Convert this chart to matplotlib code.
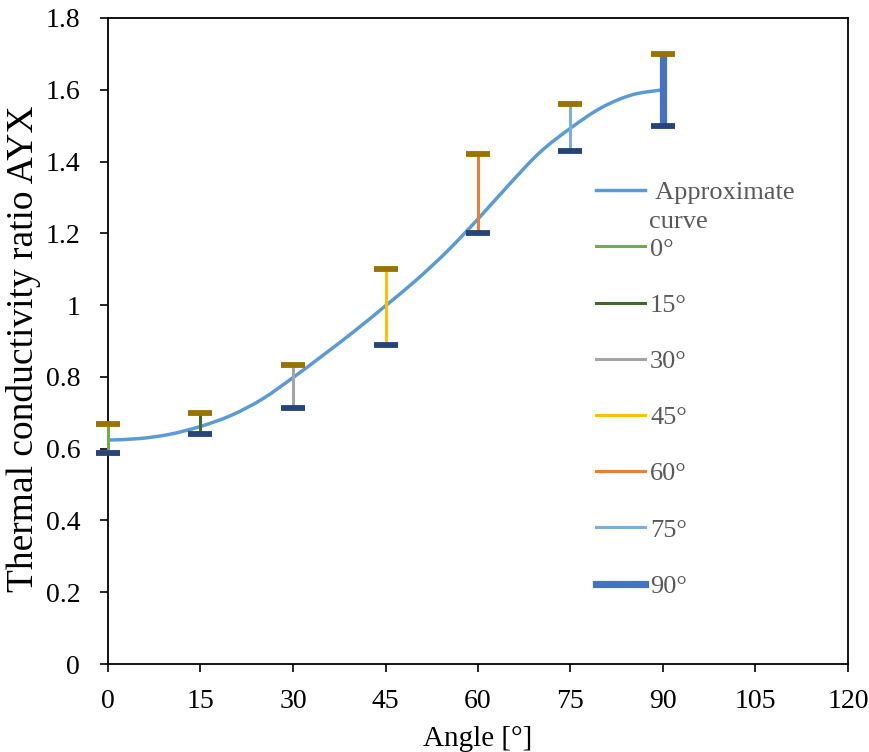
import numpy as np
import matplotlib
matplotlib.use("Agg")
import matplotlib.pyplot as plt
from matplotlib.lines import Line2D
from matplotlib.path import Path
from matplotlib.patches import PathPatch

# ---- data ----
angles = [0, 15, 30, 45, 60, 75, 90]
upper = [0.668, 0.699, 0.833, 1.100, 1.420, 1.560, 1.700]
lower = [0.589, 0.641, 0.713, 0.889, 1.200, 1.430, 1.500]
series_labels = ["0°", "15°", "30°", "45°", "60°", "75°", "90°"]
series_colors = ["#70AD47", "#43682B", "#A5A5A5", "#FFC000", "#ED7D31", "#7CAFDD", "#4472C4"]
series_widths = [2.2, 2.2, 2.2, 2.2, 2.2, 2.2, 5.2]

curve_x = [0, 5, 10, 15, 20, 25, 30, 35, 40, 45, 50, 55, 60, 65, 70, 75, 80, 85, 90]
curve_y = [0.624, 0.628, 0.640, 0.662, 0.693, 0.738, 0.798, 0.862, 0.928, 0.998,
           1.070, 1.150, 1.240, 1.335, 1.425, 1.493, 1.550, 1.586, 1.600]

xticks = [0, 15, 30, 45, 60, 75, 90, 105, 120]
yticks = [0, 0.2, 0.4, 0.6, 0.8, 1.0, 1.2, 1.4, 1.6, 1.8]
ytick_labels = ["0", "0.2", "0.4", "0.6", "0.8", "1", "1.2", "1.4", "1.6", "1.8"]

curve_color = "#5B9BD5"
cap_top_color = "#997300"
cap_bot_color = "#264478"

plt.rcParams['font.family'] = ['Liberation Serif', 'DejaVu Serif']

fig = plt.figure(figsize=(8.7, 7.52), dpi=100)
ax = fig.add_axes([108/870, 1-664/752, 740/870, 646/752])


def smooth_path(xs, ys, tension=1/6):
    """Catmull-Rom style Bezier path through the data points (like a smoothed line)."""
    pts = np.column_stack([xs, ys]).astype(float)
    n = len(pts)
    verts = [tuple(pts[0])]
    codes = [Path.MOVETO]
    for i in range(n - 1):
        p0 = pts[i - 1] if i > 0 else pts[i]
        p1 = pts[i]
        p2 = pts[i + 1]
        p3 = pts[i + 2] if i + 2 < n else pts[i + 1]
        c1 = p1 + (p2 - p0) * tension
        c2 = p2 - (p3 - p1) * tension
        verts += [tuple(c1), tuple(c2), tuple(p2)]
        codes += [Path.CURVE4] * 3
    return Path(verts, codes)


ax.add_patch(PathPatch(smooth_path(curve_x, curve_y), facecolor='none',
                       edgecolor=curve_color, lw=2.5, zorder=3, capstyle='round'))

for a, lo, hi, c, w in zip(angles, lower, upper, series_colors, series_widths):
    ax.plot([a, a], [lo, hi], color=c, lw=w, zorder=4, solid_capstyle='butt', clip_on=False)
    ax.plot([a], [hi], marker='_', markersize=17, mew=4.2, color=cap_top_color,
            zorder=5, clip_on=False)
    ax.plot([a], [lo], marker='_', markersize=17, mew=4.2, color=cap_bot_color,
            zorder=5, clip_on=False)

ax.set_xlim(0, 120)
ax.set_ylim(0, 1.8)
ax.set_xticks(xticks)
ax.set_xticklabels([str(t) for t in xticks])
ax.set_yticks(yticks)
ax.set_yticklabels(ytick_labels)
ax.tick_params(axis='both', direction='out', length=6, width=1.2, labelsize=20,
               colors='black')
ax.tick_params(axis='x', pad=12)
ax.tick_params(axis='y', pad=14)
for s in ax.spines.values():
    s.set_linewidth(1.3)
    s.set_color('black')

ax.set_xlabel("Angle [°]", fontsize=21, labelpad=9)
ax.set_ylabel("Thermal conductivity ratio AYX", fontsize=27)
ax.yaxis.set_label_coords(-0.090, 0.4876)

handles = [Line2D([0], [0], color=curve_color, lw=2.5)]
labels = [" Approximate"]
for c, w, l in zip(series_colors, series_widths, series_labels):
    handles.append(Line2D([0], [0], color=c, lw=w))
    labels.append(l)
leg = ax.legend(handles, labels, loc='upper left', bbox_to_anchor=(596/870, 1-181/752),
                bbox_transform=fig.transFigure, frameon=False, fontsize=19,
                handlelength=1.85, handletextpad=0.2, labelspacing=1.24,
                borderpad=0, borderaxespad=0)
for t in leg.get_texts():
    t.set_color('#595959')
fig.text(649/870, 1-222/752, "curve", fontsize=19, color='#595959', ha='left', va='center')

fig.savefig("out.png", dpi=100)
